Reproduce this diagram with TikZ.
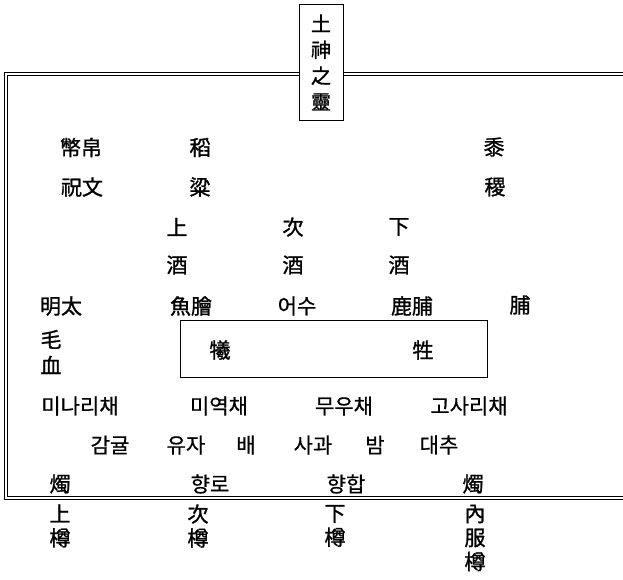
\documentclass[tikz,border=0pt]{standalone}
\usepackage{fontspec}
\newfontfamily\krfont{Noto Sans CJK KR}[FakeBold=0.6]
\newfontfamily\hjfont{Noto Sans CJK KR}[FakeBold=1.2]
\begin{document}
\begin{tikzpicture}[x=1pt,y=-1pt,
  lbl/.style={font=\krfont\fontsize{21}{26}\selectfont, inner sep=0pt},
  hj/.style={font=\hjfont\fontsize{21}{26}\selectfont, inner sep=0pt},
  stackA/.style={hj, align=center, font=\hjfont\fontsize{21}{26}\selectfont},
  stackB/.style={hj, align=center, font=\hjfont\fontsize{21}{24}\selectfont},
  frameline/.style={line width=1pt},
  thinbox/.style={draw, line width=0.7pt},
  ]
\useasboundingbox[fill=white] (0,0) rectangle (623,580);

% title box
\node[thinbox, fill=white, minimum width=44pt, minimum height=116pt, inner sep=0pt,
      align=center, font=\hjfont\fontsize{20}{26}\selectfont] (title) at (321,62.5) {土\\神\\之\\靈};

% frame (double lines, open on the right)
\draw[frameline] (title.west |- 0,72.5) -- (4,72.5) -- (4,499) -- (623,499);
\draw[frameline] (title.west |- 0,75.5) -- (7.5,75.5) -- (7.5,496) -- (623,496);
\draw[frameline] (title.east |- 0,72.5) -- (623,72.5);
\draw[frameline] (title.east |- 0,75.5) -- (623,75.5);

% row 1-2
\node[hj] (bibaek) at (81,147.5) {幣帛};
\node[hj] (do) at (200,147.5) {稻};
\node[hj] (seo) at (494,147) {黍};
\node[hj] (chungmun) at (82,187) {祝文};
\node[hj] (ryang) at (200,187) {粱};
\node[hj] (jik) at (495,187) {稷};

% wine
\node[hj] (s1) at (177,227) {上};
\node[hj] (s2) at (293,227) {次};
\node[hj] (s3) at (399,227) {下};
\node[hj] (j1) at (177,265) {酒};
\node[hj] (j2) at (293,265) {酒};
\node[hj] (j3) at (399,265) {酒};

% fish and meat
\node[hj] (myeongtae) at (61,306) {明太};
\node[hj] (eohoe) at (191,306) {魚膾};
\node[lbl] (eosu) at (297,306) {어수};
\node[hj] (nokpo) at (412,306) {鹿脯};
\node[hj] (po) at (520,305) {脯};
\node[stackA] (mohyeol) at (51,352) {毛\\血};

% sacrifice box
\draw[thinbox] (180.7,320) rectangle (487,377);
\node[hj] (hui) at (220,350) {犧};
\node[hj] (saeng) at (423,350) {牲};

% vegetables
\node[lbl] (minari) at (80,406) {미나리채};
\node[lbl] (miyeok) at (219,406) {미역채};
\node[lbl] (muu) at (344,406) {무우채};
\node[lbl] (gosari) at (469,406) {고사리채};

% fruits
\node[lbl] (gamgyul) at (110,445) {감귤};
\node[lbl] (yuja) at (186,445) {유자};
\node[lbl] (bae) at (246,445) {배};
\node[lbl] (sagwa) at (313,445) {사과};
\node[lbl] (bam) at (375,445) {밤};
\node[lbl] (daechu) at (439,445) {대추};

% candles and incense
\node[hj] (chok1) at (60,484) {燭};
\node[lbl] (hyangro) at (210,484) {향로};
\node[lbl] (hyanghap) at (346,484) {향합};
\node[hj] (chok2) at (473,484) {燭};

% vessels
\node[stackB] (jun1) at (60,526) {上\\樽};
\node[stackB] (jun2) at (198,526) {次\\樽};
\node[stackB] (jun3) at (335,526) {下\\樽};
\node[stackB] (jun4) at (475,538) {內\\服\\樽};
\end{tikzpicture}
\end{document}
